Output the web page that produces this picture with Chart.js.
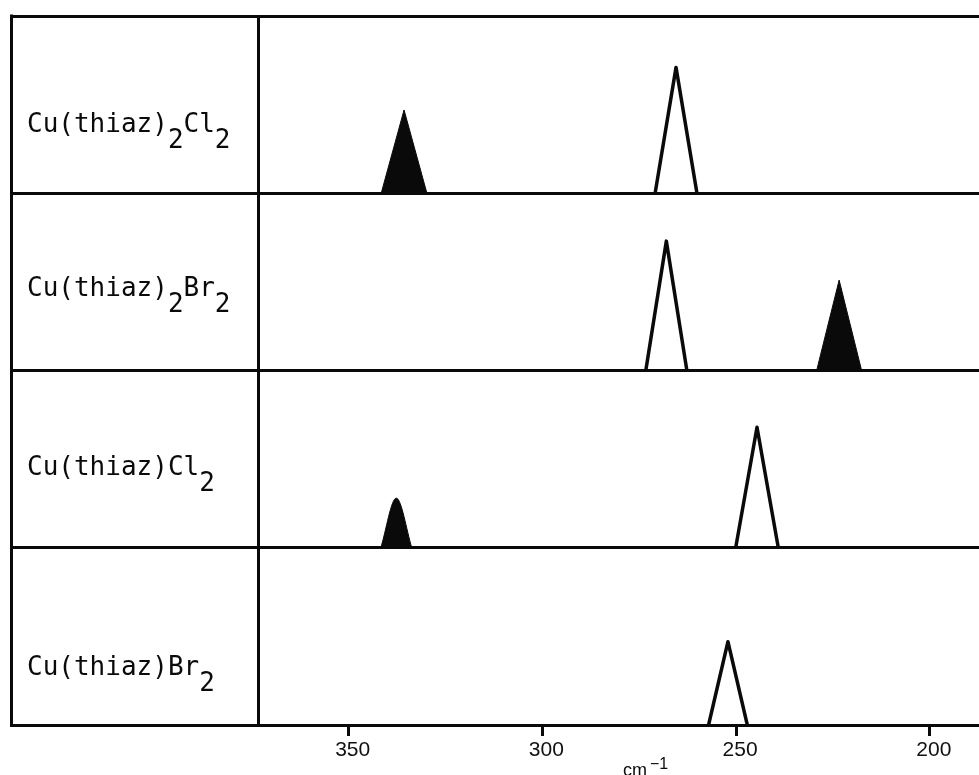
<!DOCTYPE html>
<html><head><meta charset="utf-8">
<script src="https://cdn.jsdelivr.net/npm/chart.js@4.4.1/dist/chart.umd.min.js"></script>
<style>html,body{margin:0;padding:0;background:#fff}#wrap{width:979px;height:775px;position:relative}</style>
</head><body><div id="wrap"><canvas id="c"></canvas></div>
<script>
// ---- data ----
const compounds = ['Cu(thiaz)_2Cl_2', 'Cu(thiaz)_2Br_2', 'Cu(thiaz)Cl_2', 'Cu(thiaz)Br_2']; // "_" = subscript next char
const peakCenters = [[335.7, 265.5], [268.0, 223.4], [337.7, 244.6], [252.1]];   // cm-1
const peakHeights = [[0.47, 0.71], [0.73, 0.51], [0.28, 0.68], [0.47]];          // relative intensity
const peakHalfWidths = [[5.9, 5.4], [5.3, 5.8], [4.0, 5.5], [5.0]];              // cm-1
const peakKinds = [['X', 'N'], ['N', 'X'], ['X', 'N'], ['N']];                   // X: Cu-halogen (filled), N: Cu-N (open)
const xTicks = [350, 300, 250, 200];
const xMin = 187.3, xMax = 373.4;
const axisUnit = 'cm';
const axisUnitExp = '\u22121';

// ---- styles ----
const INK = '#0a0a0a';
const roundedPeaks = [[false, false], [false, false], [true, false], [false]];
const labelOffsets = [61, 75, 73, 50];

const nRows = compounds.length;
const datasets = [];
compounds.forEach((name, r) => {
  const base = nRows - 1 - r;
  peakCenters[r].forEach((c, i) => {
    const hw = peakHalfWidths[r][i], h = peakHeights[r][i];
    const filled = peakKinds[r][i] === 'X';
    datasets.push({
      label: name + ' ' + c,
      data: [{x: c + hw, y: base}, {x: c, y: base + h}, {x: c - hw, y: base}],
      borderColor: INK,
      backgroundColor: INK,
      borderWidth: filled ? 1 : 3.5,
      fill: filled ? {value: base} : false,
      pointRadius: 0,
      borderJoinStyle: 'round',
      borderCapStyle: 'butt',
      cubicInterpolationMode: roundedPeaks[r][i] ? 'monotone' : 'default',
      tension: 0
    });
  });
});

const framePlugin = {
  id: 'frame',
  afterDraw(chart) {
    const {ctx, scales} = chart;
    const y = scales.y;
    ctx.save();
    ctx.strokeStyle = INK; ctx.lineWidth = 3;
    ctx.beginPath();
    ctx.moveTo(11.5, y.getPixelForValue(nRows) - 1.5);
    ctx.lineTo(11.5, y.getPixelForValue(0) + 1.5);
    ctx.stroke();
    ctx.fillStyle = INK;
    ctx.font = '26px "DejaVu Sans Mono"';
    ctx.textBaseline = 'alphabetic';
    compounds.forEach((name, r) => {
      const bottom = y.getPixelForValue(nRows - 1 - r);
      const baseline = bottom - labelOffsets[r];
      let x = 27;
      for (let k = 0; k < name.length; k++) {
        let ch = name[k], dy = 0;
        if (ch === '_') { k++; ch = name[k]; dy = 16; }
        ctx.fillText(ch, x, baseline + dy);
        x += ctx.measureText(ch).width;
      }
    });
    ctx.font = '18px "Liberation Sans"';
    ctx.fillText(axisUnit, 623, 776);
    const w = ctx.measureText(axisUnit).width;
    ctx.font = '16px "Liberation Sans"';
    ctx.fillText(axisUnitExp, 623 + w + 3, 769);
    ctx.restore();
  }
};

new Chart(document.getElementById('c'), {
  type: 'line',
  data: {datasets},
  options: {
    responsive: true,
    maintainAspectRatio: false,
    animation: false,
    events: [],
    layout: {padding: {left: 10, top: 16, right: 0, bottom: 0}},
    plugins: {legend: {display: false}, tooltip: {enabled: false}},
    scales: {
      x: {
        type: 'linear',
        reverse: true,
        min: xMin, max: xMax,
        afterBuildTicks: s => { s.ticks = xTicks.map(v => ({value: v})); },
        afterFit: s => { s.height = 50; },
        grid: {drawOnChartArea: false, drawTicks: true, tickLength: 11, lineWidth: 3, color: INK},
        border: {display: true, width: 3, color: INK},
        ticks: {color: '#111', font: {family: 'Liberation Sans', size: 21}, padding: 2, labelOffset: 4, maxRotation: 0}
      },
      y: {
        type: 'linear',
        min: 0, max: nRows,
        afterFit: s => { s.width = 248; },
        ticks: {display: false, stepSize: 1},
        grid: {drawOnChartArea: true, drawTicks: true, tickLength: 248, lineWidth: 3, color: INK},
        border: {display: true, width: 3, color: INK}
      }
    }
  },
  plugins: [framePlugin]
});
</script>
</body></html>
